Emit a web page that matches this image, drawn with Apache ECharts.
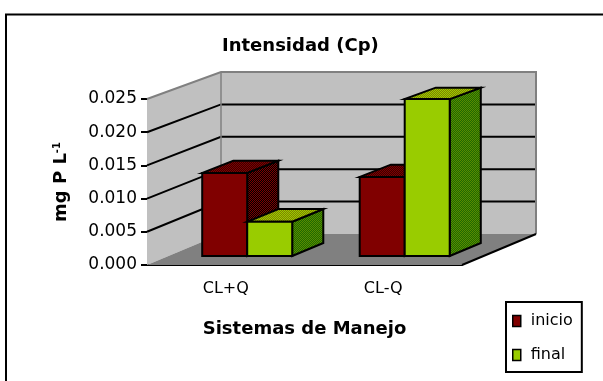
<!DOCTYPE html>
<html>
<head>
<meta charset="utf-8">
<script src="https://cdn.jsdelivr.net/npm/echarts@6/dist/echarts.min.js"></script>
<style>
  html, body { margin: 0; padding: 0; background: #fff; }
  #chart { width: 603px; height: 381px; }
</style>
</head>
<body>
<div id="chart"></div>
<script>
// Chart data
const categories = ['CL+Q', 'CL-Q'];
const inicio = [0.0126, 0.0120];
const final = [0.0052, 0.0238];
const yTicks = [0, 0.005, 0.010, 0.015, 0.020, 0.025];
const seriesNames = ['inicio', 'final'];

// 3-D look: oblique depth offset of the back wall, in pixels
const DEPTH_DX = 74;
const DEPTH_DY = 31;
const DEPTH_SHRINK = 0.024;   // back wall is slightly shorter (perspective)
const BAR_D0 = 0.29, BAR_D1 = 0.71;  // bars sit in the middle of the depth
const GAP_RATIO = 3.5;        // band width / bar width (gap width 150 %)

const FONT = "'DejaVu Sans', sans-serif";

// Dithered fills for the shaded faces
function dither(c1, c2) {
  const cv = document.createElement('canvas');
  cv.width = 2; cv.height = 2;
  const ctx = cv.getContext('2d');
  ctx.fillStyle = c1; ctx.fillRect(0, 0, 2, 2);
  ctx.fillStyle = c2; ctx.fillRect(1, 0, 1, 1); ctx.fillRect(0, 1, 1, 1);
  return { image: cv, repeat: 'repeat' };
}
const faces = {
  inicio: { front: '#800000', top: dither('#800000', '#3a0000'), side: dither('#800000', '#000000') },
  final:  { front: '#99CC00', top: dither('#99CC00', '#808000'), side: dither('#5a8a00', '#1f6a00') }
};

// Project a point of the front plane (pixel x, data value v) to depth d in [0,1]
function project(api, cs, x, v, d) {
  const y0 = cs.y + cs.height;
  const h = y0 - api.coord([0, v])[1];
  return [x + d * DEPTH_DX, y0 - d * DEPTH_DY - h * (1 - d * DEPTH_SHRINK)];
}

function renderWalls(params, api) {
  const cs = params.coordSys;
  const xl = cs.x, xr = cs.x + cs.width;
  const top = yTicks[yTicks.length - 1];
  const P = (x, v, d) => project(api, cs, x, v, d);
  const children = [
    { type: 'polygon', shape: { points: [P(xl, 0, 0), P(xl, 0, 1), P(xl, top, 1), P(xl, top, 0)] },
      style: { fill: '#C0C0C0' } },
    { type: 'polygon', shape: { points: [P(xl, 0, 1), P(xr, 0, 1), P(xr, top, 1), P(xl, top, 1)] },
      style: { fill: '#C0C0C0' } },
    { type: 'polygon', shape: { points: [P(xl, 0, 0), P(xr, 0, 0), P(xr, 0, 1), P(xl, 0, 1)] },
      style: { fill: '#808080' } }
  ];
  yTicks.slice(1, -1).forEach(v => {
    children.push({ type: 'polyline', shape: { points: [P(xl, v, 0), P(xl, v, 1), P(xr, v, 1)] },
      style: { stroke: '#000', lineWidth: 2, fill: null } });
  });
  children.push({ type: 'polyline', shape: { points: [P(xl, 0, 1), P(xl, top, 1)] },
    style: { stroke: '#808080', lineWidth: 1.5, fill: null } });
  children.push({ type: 'polyline', shape: { points: [P(xl, top, 0), P(xl, top, 1), P(xr, top, 1), P(xr, 0, 1)] },
    style: { stroke: '#808080', lineWidth: 2, fill: null } });
  children.push({ type: 'polyline', shape: { points: [P(xr, 0, 0), P(xr, 0, 1)] },
    style: { stroke: '#000', lineWidth: 2, fill: null } });
  return { type: 'group', children };
}

function barRenderer(name, side) {
  const f = faces[name];
  return function (params, api) {
    const cs = params.coordSys;
    const i = api.value(0), v = api.value(1);
    const band = api.size([1, 0])[0];
    const cx = api.coord([i, 0])[0];
    const w = band / GAP_RATIO;
    const xa = side < 0 ? cx - w : cx;
    const xb = side < 0 ? cx : cx + w;
    const P = (x, val, d) => project(api, cs, x, val, d);
    const edge = { stroke: '#000', lineWidth: 2, lineJoin: 'miter' };
    return {
      type: 'group',
      children: [
        { type: 'polygon', shape: { points: [P(xb, 0, BAR_D0), P(xb, 0, BAR_D1), P(xb, v, BAR_D1), P(xb, v, BAR_D0)] },
          style: Object.assign({ fill: f.side }, edge) },
        { type: 'polygon', shape: { points: [P(xa, v, BAR_D0), P(xb, v, BAR_D0), P(xb, v, BAR_D1), P(xa, v, BAR_D1)] },
          style: Object.assign({ fill: f.top }, edge) },
        { type: 'polygon', shape: { points: [P(xa, 0, BAR_D0), P(xb, 0, BAR_D0), P(xb, v, BAR_D0), P(xa, v, BAR_D0)] },
          style: Object.assign({ fill: f.front }, edge) }
      ]
    };
  };
}

const chart = echarts.init(document.getElementById('chart'), null, { renderer: 'canvas' });
chart.setOption({
  animation: false,
  backgroundColor: '#fff',
  title: {
    text: 'Intensidad (Cp)',
    left: 222, top: 37, padding: 0,
    textStyle: { fontFamily: FONT, fontWeight: 'bold', fontSize: 18, color: '#000' }
  },
  graphic: [{
    type: 'rect', shape: { x: 6, y: 14.5, width: 800, height: 600 },
    style: { fill: null, stroke: '#000', lineWidth: 2 }, silent: true
  }],
  legend: {
    data: seriesNames,
    orient: 'vertical',
    left: 506, top: 302,
    padding: [11, 9, 9, 6],
    itemGap: 18,
    itemWidth: 8, itemHeight: 11,
    icon: 'rect',
    borderColor: '#000', borderWidth: 2,
    itemStyle: { borderColor: '#000', borderWidth: 1.5 },
    textStyle: { fontFamily: FONT, fontSize: 16, color: '#000', padding: [0, 0, 0, 5] }
  },
  grid: { left: 147, top: 99, width: 315, height: 166 },
  xAxis: {
    type: 'category',
    data: categories,
    name: 'Sistemas de Manejo',
    nameLocation: 'middle',
    nameGap: 55,
    nameTextStyle: { fontFamily: FONT, fontWeight: 'bold', fontSize: 18, color: '#000' },
    axisLine: { lineStyle: { color: '#000', width: 2 } },
    axisTick: { length: 5, lineStyle: { color: '#000', width: 2 } },
    axisLabel: { fontFamily: FONT, fontSize: 16, color: '#000', margin: 16 }
  },
  yAxis: {
    type: 'value',
    min: yTicks[0], max: yTicks[yTicks.length - 1], interval: yTicks[1] - yTicks[0],
    name: '{a|mg P L}{s|-1}',
    nameLocation: 'middle',
    nameRotate: 90,
    nameGap: 77,
    nameTextStyle: {
      fontFamily: FONT, fontWeight: 'bold', fontSize: 18, color: '#000',
      rich: {
        a: { fontFamily: FONT, fontWeight: 'bold', fontSize: 18, color: '#000' },
        s: { fontFamily: FONT, fontWeight: 'bold', fontSize: 10, color: '#000', verticalAlign: 'top' }
      }
    },
    axisLine: { show: false },
    axisTick: { show: true, length: 6, lineStyle: { color: '#000', width: 2 } },
    splitLine: { show: false },
    axisLabel: { fontFamily: FONT, fontSize: 17, color: '#000', margin: 10,
      formatter: v => v.toFixed(3) }
  },
  series: [
    { type: 'custom', name: 'walls', silent: true, renderItem: renderWalls, data: [[0, 0]] },
    { type: 'custom', name: 'inicio', renderItem: barRenderer('inicio', -1),
      itemStyle: { color: '#800000' },
      data: inicio.map((v, i) => [i, v]) },
    { type: 'custom', name: 'final', renderItem: barRenderer('final', 1),
      itemStyle: { color: '#99CC00' },
      data: final.map((v, i) => [i, v]) }
  ]
});
</script>
</body>
</html>
